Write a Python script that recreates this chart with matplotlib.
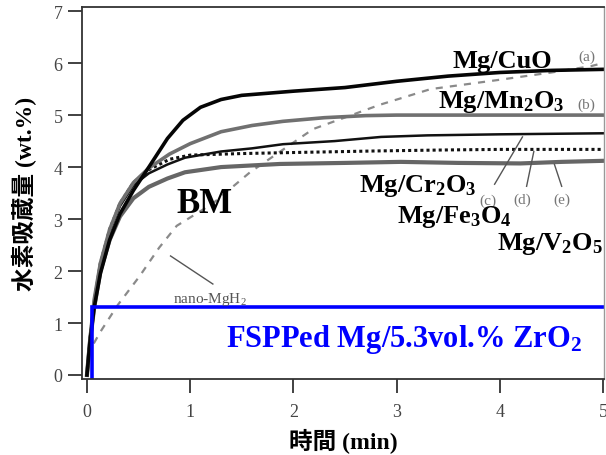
import matplotlib
matplotlib.use('Agg')
import matplotlib.pyplot as plt

# 吸蔵曲線データ (時間 min, 水素量 wt.%)
t_a = [0, 0.03, 0.07, 0.13, 0.22, 0.32, 0.45, 0.6, 0.78, 0.93, 1.1, 1.3, 1.5, 2.0, 2.5, 3.0, 3.5, 4.0, 4.5, 5.0]
h_a = [0, 0.65, 1.3, 1.95, 2.6, 3.1, 3.55, 4.0, 4.55, 4.9, 5.15, 5.3, 5.38, 5.46, 5.53, 5.65, 5.75, 5.82, 5.86, 5.88]

t_b = [0, 0.03, 0.07, 0.13, 0.22, 0.32, 0.45, 0.6, 0.8, 1.0, 1.3, 1.6, 1.9, 2.3, 2.7, 3.0, 4.0, 5.0]
h_b = [0, 0.7, 1.45, 2.15, 2.8, 3.3, 3.7, 3.98, 4.25, 4.45, 4.68, 4.8, 4.88, 4.95, 4.99, 5.0, 5.0, 5.0]

t_c = [0, 0.03, 0.07, 0.13, 0.22, 0.32, 0.45, 0.6, 0.78, 0.95, 1.3, 1.6, 1.9, 2.4, 2.85, 3.3, 4.0, 4.5, 5.0]
h_c = [0, 0.7, 1.4, 2.1, 2.75, 3.25, 3.65, 3.88, 4.05, 4.18, 4.3, 4.36, 4.44, 4.5, 4.58, 4.61, 4.63, 4.64, 4.65]

t_d = [0, 0.03, 0.07, 0.13, 0.22, 0.32, 0.45, 0.6, 0.8, 1.0, 1.5, 2.0, 2.8, 3.5, 4.0, 5.0]
h_d = [0, 0.7, 1.4, 2.15, 2.8, 3.3, 3.7, 3.95, 4.15, 4.23, 4.26, 4.28, 4.31, 4.33, 4.34, 4.34]

t_e = [0, 0.03, 0.07, 0.13, 0.22, 0.32, 0.45, 0.6, 0.78, 0.95, 1.3, 1.87, 2.5, 3.04, 3.6, 4.2, 4.6, 5.0]
h_e = [0, 0.65, 1.3, 2.0, 2.6, 3.05, 3.4, 3.62, 3.78, 3.9, 4.0, 4.06, 4.08, 4.1, 4.08, 4.07, 4.1, 4.12]

t_nano = [0.02, 0.05, 0.13, 0.3, 0.51, 0.7, 0.87, 1.22, 1.58, 2.19, 2.84, 3.33, 4.0, 4.5, 4.88, 5.0]
h_nano = [0.35, 0.55, 0.83, 1.35, 1.9, 2.45, 2.87, 3.3, 3.9, 4.73, 5.2, 5.5, 5.68, 5.82, 5.94, 6.0]

# FSPPed Mg/5.3vol.% ZrO2
t_fsp = [0.05, 0.05, 5.05]
h_fsp = [-0.1, 1.3, 1.3]

serif = 'Liberation Serif'
cjk = [serif, 'Noto Sans CJK JP']

fig = plt.figure(figsize=(6.06, 4.56), dpi=100)
ax = fig.add_axes([0.1353, 0.1667, 0.8614, 0.8158])

ax.plot(t_nano, h_nano, color='#8a8a8a', lw=1.6, ls=(0, (3.2, 3.2)))
ax.plot(t_e, h_e, color='#666666', lw=3.0)
ax.plot(t_d, h_d, color='#111111', lw=2.2, ls=(0, (1.0, 1.0)))
ax.plot(t_c, h_c, color='#111111', lw=1.8)
ax.plot(t_b, h_b, color='#707070', lw=2.6)
ax.plot(t_a, h_a, color='#050505', lw=2.6)
ax.plot(t_fsp, h_fsp, color='#0000ff', lw=2.6, solid_joinstyle='miter')

# 引き出し線
leaders = [((3.95, 4.22), (3.67, 4.58)),
           ((4.26, 4.33), (3.63, 4.30)),
           ((4.60, 4.53), (3.63, 4.05)),
           ((0.81, 1.22), (2.29, 1.75))]
for xs, ys in leaders:
    ax.plot(xs, ys, color='#555555', lw=1.0)

# 記号 (a)-(e)
for s, x, y in [('(a)', 4.84, 6.13), ('(b)', 4.84, 5.21), ('(c)', 3.89, 3.36),
                ('(d)', 4.22, 3.38), ('(e)', 4.60, 3.38)]:
    ax.text(x, y, s, family=serif, fontsize=11, color='#777777', ha='center', va='center')

bold = dict(family=serif, fontweight='bold', fontsize=19, color='black', ha='left', va='baseline')
ax.text(3.54, 5.92, 'Mg/CuO', **bold)
ax.text(3.40, 5.15, r'Mg/Mn$\mathregular{_2}$O$\mathregular{_3}$', **bold)
ax.text(2.64, 3.54, r'Mg/Cr$\mathregular{_2}$O$\mathregular{_3}$', **bold)
ax.text(3.00, 2.94, r'Mg/Fe$\mathregular{_3}$O$\mathregular{_4}$', **bold)
ax.text(3.97, 2.42, r'Mg/V$\mathregular{_2}$O$\mathregular{_5}$', **bold)
ax.text(0.87, 3.13, 'BM', family=serif, fontweight='bold', fontsize=25, va='baseline')
ax.text(0.83, 1.40, r'nano-MgH$\mathregular{_2}$', family=serif, fontsize=11, color='#555555', va='baseline')
ax.text(1.35, 0.56, r'FSPPed Mg/5.3vol.% ZrO$\mathregular{_2}$', family=serif, fontweight='bold',
        fontsize=22, color='#0000ff', va='baseline')

ax.set_xlim(-0.048, 5.01)
ax.set_ylim(-0.077, 7.08)
ax.set_xticks([0, 1, 2, 3, 4, 5])
ax.set_yticks(range(8))
ax.tick_params(direction='out', length=10, width=1.3, color='#333333', labelcolor='#444444', labelsize=13)
ax.tick_params(axis='x', pad=7)
ax.tick_params(axis='y', pad=4)
for lab in ax.get_xticklabels() + ax.get_yticklabels():
    lab.set_family(serif)
for side in ['left', 'bottom', 'top']:
    ax.spines[side].set_color('#333333')
    ax.spines[side].set_linewidth(1.3)
ax.spines['right'].set_color('#999999')
ax.spines['right'].set_linewidth(1.0)

ax.set_xlabel('時間 (min)', family=cjk, fontweight='bold', fontsize=17, labelpad=6)
ax.set_ylabel('水素吸蔵量 (wt.%)', family=cjk, fontweight='bold', fontsize=17, labelpad=12)

fig.savefig('out.png', dpi=100)
plt.close()
